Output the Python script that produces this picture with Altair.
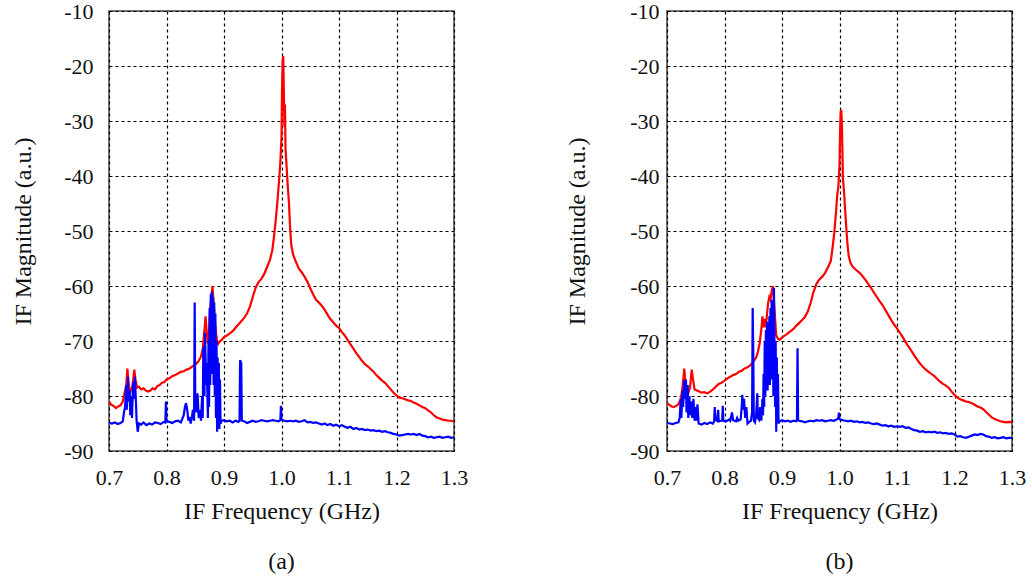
import altair as alt
import pandas as pd

X_TICKS = [0.7, 0.8, 0.9, 1.0, 1.1, 1.2, 1.3]
Y_TICKS = [-90, -80, -70, -60, -50, -40, -30, -20, -10]
X_TITLE = "IF Frequency (GHz)"
Y_TITLE = "IF Magnitude (a.u.)"
PANEL_TAGS = ["(a)", "(b)"]

# ---- panel (a): red trace (frequency GHz, magnitude a.u.)
RED_A = [
    (0.700, -81.0), (0.704, -81.6), (0.708, -81.8), (0.712, -82.2), (0.716, -81.9),
    (0.720, -81.7), (0.724, -81.0), (0.727, -79.5), (0.730, -78.0), (0.732, -75.0),
    (0.734, -77.5), (0.736, -79.5), (0.738, -79.0), (0.741, -78.0), (0.744, -75.2),
    (0.746, -77.0), (0.749, -78.5), (0.752, -78.3), (0.756, -78.8), (0.760, -78.6),
    (0.764, -79.0), (0.768, -79.2), (0.772, -79.0), (0.776, -78.6), (0.780, -78.8),
    (0.784, -78.2), (0.788, -78.0), (0.792, -77.6), (0.796, -77.5), (0.800, -77.0),
    (0.805, -76.8), (0.810, -76.4), (0.815, -76.2), (0.820, -75.9), (0.825, -75.6),
    (0.830, -75.5), (0.835, -75.2), (0.840, -75.0), (0.845, -74.6), (0.850, -74.3),
    (0.855, -73.8), (0.860, -72.8), (0.863, -71.5), (0.866, -68.0), (0.868, -65.5),
    (0.870, -68.5), (0.872, -70.5), (0.874, -68.0), (0.876, -64.0), (0.878, -62.0),
    (0.880, -60.0), (0.882, -63.0), (0.884, -66.0), (0.886, -68.5), (0.888, -70.0),
    (0.890, -70.5), (0.893, -70.0), (0.896, -69.8), (0.900, -69.3), (0.905, -69.0),
    (0.910, -68.6), (0.915, -68.2), (0.920, -67.6), (0.925, -67.0), (0.930, -66.4),
    (0.935, -65.8), (0.940, -65.0), (0.945, -63.8), (0.950, -62.0), (0.955, -60.3),
    (0.960, -59.3), (0.965, -58.7), (0.970, -57.8), (0.975, -56.5), (0.980, -55.2),
    (0.984, -53.5), (0.987, -51.0), (0.990, -48.0), (0.993, -44.5), (0.996, -40.5),
    (0.998, -37.5), (1.000, -33.0), (1.001, -24.0), (1.002, -19.0), (1.003, -18.2),
    (1.004, -24.0), (1.005, -31.0), (1.006, -27.0), (1.007, -35.0), (1.009, -38.5),
    (1.011, -42.0), (1.013, -45.0), (1.015, -49.5), (1.017, -52.5), (1.020, -54.2),
    (1.025, -55.6), (1.030, -56.8), (1.035, -57.5), (1.040, -58.3), (1.045, -59.2),
    (1.050, -60.4), (1.055, -61.5), (1.060, -62.5), (1.065, -63.0), (1.070, -63.6),
    (1.075, -64.3), (1.080, -65.2), (1.085, -66.0), (1.090, -66.6), (1.095, -67.2),
    (1.100, -67.6), (1.105, -68.4), (1.110, -69.0), (1.115, -69.8), (1.120, -70.6),
    (1.125, -71.4), (1.130, -72.2), (1.135, -72.9), (1.140, -73.6), (1.145, -74.2),
    (1.150, -74.6), (1.155, -75.1), (1.160, -75.6), (1.165, -76.2), (1.170, -76.7),
    (1.175, -77.2), (1.180, -77.6), (1.185, -78.2), (1.190, -78.8), (1.195, -79.4),
    (1.200, -79.9), (1.205, -80.3), (1.210, -80.4), (1.215, -80.6), (1.220, -80.8),
    (1.225, -80.9), (1.230, -81.2), (1.235, -81.4), (1.240, -81.7), (1.245, -82.0),
    (1.250, -82.2), (1.255, -82.6), (1.260, -83.0), (1.265, -83.5), (1.270, -83.9),
    (1.275, -84.1), (1.280, -84.3), (1.285, -84.4), (1.290, -84.5), (1.295, -84.5),
    (1.300, -84.6),
]

# ---- panel (a): blue trace
BLUE_A = [
    (0.700, -84.9), (0.705, -85.0), (0.710, -84.8), (0.715, -85.1), (0.720, -84.9),
    (0.724, -84.6), (0.726, -83.0), (0.728, -82.0), (0.730, -78.0), (0.731, -82.5),
    (0.733, -76.5), (0.734, -81.0), (0.736, -79.0), (0.737, -83.5), (0.739, -80.0),
    (0.740, -84.0), (0.742, -77.5), (0.744, -80.5), (0.745, -76.5), (0.747, -81.5),
    (0.748, -84.5), (0.750, -86.5), (0.752, -85.0), (0.756, -85.2), (0.760, -84.8),
    (0.765, -85.3), (0.770, -85.0), (0.775, -85.2), (0.780, -84.8), (0.785, -84.9),
    (0.790, -85.1), (0.795, -84.7), (0.798, -84.8), (0.799, -81.0), (0.800, -84.6),
    (0.805, -84.7), (0.810, -84.9), (0.815, -84.6), (0.820, -84.5), (0.825, -84.8),
    (0.828, -84.0), (0.830, -83.5), (0.832, -82.0), (0.834, -81.3), (0.836, -82.5),
    (0.838, -84.5), (0.840, -83.8), (0.842, -85.0), (0.844, -84.0), (0.846, -82.5),
    (0.848, -84.5), (0.849, -63.0), (0.850, -80.0), (0.852, -83.0), (0.854, -79.5),
    (0.856, -84.0), (0.858, -82.5), (0.860, -84.5), (0.862, -80.0), (0.863, -84.0),
    (0.864, -71.0), (0.866, -80.0), (0.867, -68.5), (0.869, -78.0), (0.870, -74.0),
    (0.872, -84.0), (0.873, -70.0), (0.874, -82.0), (0.875, -64.0), (0.876, -78.0),
    (0.877, -61.5), (0.878, -76.0), (0.879, -61.0), (0.880, -72.0), (0.881, -62.0),
    (0.882, -78.0), (0.883, -63.0), (0.884, -80.0), (0.885, -65.0), (0.886, -84.0),
    (0.887, -70.0), (0.888, -86.5), (0.889, -73.0), (0.890, -85.5), (0.891, -74.0),
    (0.892, -86.0), (0.893, -77.0), (0.894, -85.0), (0.896, -84.5), (0.900, -84.4),
    (0.905, -84.6), (0.910, -84.5), (0.915, -84.8), (0.920, -84.5), (0.925, -84.7),
    (0.927, -84.5), (0.928, -73.5), (0.930, -74.0), (0.931, -84.5), (0.935, -84.6),
    (0.940, -84.9), (0.945, -84.7), (0.950, -84.5), (0.955, -84.7), (0.960, -84.6),
    (0.965, -84.4), (0.970, -84.5), (0.975, -84.6), (0.980, -84.5), (0.985, -84.4),
    (0.990, -84.5), (0.995, -84.6), (0.998, -84.4), (0.999, -81.8), (1.000, -84.3),
    (1.005, -84.5), (1.010, -84.6), (1.015, -84.5), (1.020, -84.6), (1.025, -84.5),
    (1.030, -84.7), (1.035, -84.6), (1.040, -84.4), (1.045, -84.8), (1.050, -84.7),
    (1.055, -84.9), (1.060, -84.8), (1.065, -85.0), (1.070, -85.2), (1.075, -85.0),
    (1.080, -85.3), (1.085, -85.1), (1.090, -85.4), (1.095, -85.2), (1.100, -85.5),
    (1.105, -85.3), (1.110, -85.6), (1.115, -85.8), (1.120, -85.6), (1.125, -86.0),
    (1.130, -85.8), (1.135, -86.1), (1.140, -86.0), (1.145, -86.2), (1.150, -86.1),
    (1.155, -86.3), (1.160, -86.2), (1.165, -86.4), (1.170, -86.3), (1.175, -86.5),
    (1.180, -86.4), (1.185, -86.6), (1.190, -86.7), (1.195, -86.9), (1.200, -87.0),
    (1.205, -87.2), (1.210, -87.1), (1.215, -87.0), (1.220, -86.9), (1.225, -87.0),
    (1.230, -86.9), (1.235, -87.1), (1.240, -86.9), (1.245, -87.2), (1.250, -87.3),
    (1.255, -87.5), (1.260, -87.4), (1.265, -87.6), (1.270, -87.5), (1.275, -87.4),
    (1.280, -87.6), (1.285, -87.5), (1.290, -87.4), (1.295, -87.6), (1.300, -87.5),
]

# ---- panel (b): red trace
RED_B = [
    (0.700, -81.3), (0.704, -81.6), (0.708, -81.9), (0.712, -82.0), (0.716, -81.8),
    (0.720, -81.5), (0.724, -80.5), (0.727, -78.5), (0.730, -75.0), (0.732, -77.5),
    (0.734, -79.0), (0.737, -79.5), (0.740, -78.5), (0.743, -75.2), (0.745, -76.8),
    (0.748, -78.8), (0.752, -79.0), (0.756, -79.2), (0.760, -79.4), (0.765, -79.3),
    (0.770, -79.5), (0.775, -79.2), (0.780, -78.8), (0.785, -78.3), (0.790, -77.8),
    (0.795, -77.6), (0.800, -77.2), (0.805, -76.8), (0.810, -76.5), (0.815, -76.2),
    (0.820, -76.0), (0.825, -75.6), (0.830, -75.4), (0.835, -75.0), (0.840, -74.8),
    (0.845, -74.4), (0.850, -73.8), (0.855, -73.0), (0.858, -72.0), (0.861, -70.5),
    (0.864, -68.0), (0.866, -65.5), (0.868, -67.5), (0.870, -66.0), (0.872, -67.5),
    (0.874, -65.0), (0.876, -63.0), (0.878, -62.0), (0.880, -62.5), (0.882, -61.0),
    (0.884, -60.0), (0.886, -62.5), (0.888, -66.0), (0.890, -69.0), (0.893, -69.6),
    (0.896, -69.8), (0.900, -69.4), (0.905, -69.0), (0.910, -68.6), (0.915, -68.2),
    (0.920, -67.8), (0.925, -67.2), (0.930, -66.7), (0.935, -66.2), (0.940, -65.6),
    (0.945, -64.6), (0.950, -63.0), (0.955, -61.0), (0.960, -59.6), (0.965, -58.8),
    (0.970, -58.3), (0.975, -57.6), (0.980, -56.6), (0.985, -55.4), (0.988, -53.0),
    (0.991, -50.3), (0.994, -46.5), (0.996, -43.5), (0.998, -42.0), (1.000, -38.0),
    (1.001, -32.0), (1.002, -28.3), (1.003, -28.0), (1.004, -30.0), (1.005, -35.0),
    (1.006, -40.5), (1.008, -43.0), (1.010, -46.5), (1.012, -49.8), (1.014, -52.5),
    (1.016, -54.5), (1.019, -55.8), (1.023, -56.5), (1.028, -57.0), (1.035, -57.6),
    (1.040, -58.2), (1.045, -58.9), (1.050, -59.6), (1.055, -60.4), (1.060, -61.2),
    (1.065, -62.0), (1.070, -62.8), (1.075, -63.5), (1.080, -64.4), (1.085, -65.3),
    (1.090, -66.2), (1.095, -67.0), (1.100, -67.7), (1.105, -68.5), (1.110, -69.3),
    (1.115, -70.2), (1.120, -71.0), (1.125, -71.8), (1.130, -72.6), (1.135, -73.4),
    (1.140, -74.1), (1.145, -74.7), (1.150, -75.2), (1.155, -75.6), (1.160, -76.0),
    (1.165, -76.4), (1.170, -76.9), (1.175, -77.4), (1.180, -77.8), (1.185, -78.1),
    (1.190, -78.5), (1.195, -79.2), (1.200, -79.8), (1.205, -80.3), (1.210, -80.6),
    (1.215, -80.8), (1.220, -81.0), (1.225, -81.1), (1.230, -81.3), (1.235, -81.6),
    (1.240, -81.9), (1.245, -82.1), (1.250, -82.4), (1.255, -82.9), (1.260, -83.4),
    (1.265, -83.9), (1.270, -84.2), (1.275, -84.4), (1.280, -84.6), (1.285, -84.7),
    (1.290, -84.8), (1.295, -84.7), (1.300, -84.8),
]

# ---- panel (b): blue trace
BLUE_B = [
    (0.700, -84.9), (0.705, -85.0), (0.710, -85.1), (0.715, -84.9), (0.720, -84.8),
    (0.722, -84.0), (0.724, -80.5), (0.725, -84.0), (0.727, -79.0), (0.728, -82.0),
    (0.730, -77.2), (0.731, -80.5), (0.733, -77.0), (0.734, -83.0), (0.736, -78.0),
    (0.737, -84.0), (0.739, -80.0), (0.740, -83.5), (0.742, -81.0), (0.744, -84.0),
    (0.746, -80.5), (0.748, -84.5), (0.750, -82.0), (0.751, -84.5), (0.753, -81.5),
    (0.755, -85.0), (0.760, -85.2), (0.765, -84.9), (0.770, -85.1), (0.775, -84.8),
    (0.780, -85.0), (0.782, -84.6), (0.783, -82.0), (0.784, -84.3), (0.787, -84.5),
    (0.789, -82.5), (0.790, -84.6), (0.794, -84.5), (0.796, -84.4), (0.797, -81.8),
    (0.798, -84.5), (0.803, -84.6), (0.808, -84.3), (0.810, -84.5), (0.813, -83.0),
    (0.815, -84.4), (0.820, -84.6), (0.822, -84.0), (0.824, -84.5), (0.828, -84.3),
    (0.830, -82.0), (0.831, -79.8), (0.832, -82.5), (0.834, -80.5), (0.836, -84.0),
    (0.838, -82.0), (0.840, -85.0), (0.843, -84.7), (0.846, -84.5), (0.848, -83.0),
    (0.849, -64.0), (0.850, -72.0), (0.851, -84.5), (0.853, -84.8), (0.855, -83.5),
    (0.857, -79.5), (0.858, -84.0), (0.860, -84.3), (0.862, -82.0), (0.864, -84.5),
    (0.866, -80.5), (0.867, -83.5), (0.868, -76.0), (0.869, -82.0), (0.870, -70.0),
    (0.871, -80.0), (0.872, -68.0), (0.873, -78.0), (0.874, -66.5), (0.875, -79.0),
    (0.876, -67.0), (0.877, -76.0), (0.878, -65.5), (0.879, -78.0), (0.880, -64.0),
    (0.881, -74.0), (0.882, -62.5), (0.883, -77.0), (0.884, -63.0), (0.885, -80.0),
    (0.886, -60.3), (0.887, -72.0), (0.888, -82.0), (0.889, -70.0), (0.890, -86.5),
    (0.891, -73.0), (0.892, -84.0), (0.893, -76.0), (0.894, -85.0), (0.896, -84.6),
    (0.900, -84.4), (0.905, -84.6), (0.910, -84.5), (0.915, -84.7), (0.920, -84.5),
    (0.925, -84.6), (0.926, -84.3), (0.927, -71.3), (0.928, -84.4), (0.930, -84.5),
    (0.935, -84.6), (0.940, -84.8), (0.945, -84.6), (0.950, -84.5), (0.955, -84.6),
    (0.960, -84.4), (0.965, -84.5), (0.970, -84.4), (0.975, -84.6), (0.980, -84.5),
    (0.985, -84.4), (0.990, -84.5), (0.995, -84.3), (0.998, -84.0), (0.999, -83.0),
    (1.000, -84.2), (1.005, -84.4), (1.010, -84.5), (1.015, -84.6), (1.020, -84.5),
    (1.025, -84.7), (1.030, -84.6), (1.035, -84.8), (1.040, -84.7), (1.045, -84.9),
    (1.050, -84.8), (1.055, -85.0), (1.060, -85.1), (1.065, -85.0), (1.070, -85.2),
    (1.075, -85.4), (1.080, -85.3), (1.085, -85.5), (1.090, -85.4), (1.095, -85.6),
    (1.100, -85.5), (1.105, -85.6), (1.110, -85.5), (1.115, -85.8), (1.120, -85.7),
    (1.125, -86.0), (1.130, -86.2), (1.135, -86.3), (1.140, -86.5), (1.145, -86.4),
    (1.150, -86.6), (1.155, -86.5), (1.160, -86.6), (1.165, -86.5), (1.170, -86.7),
    (1.175, -86.6), (1.180, -86.8), (1.185, -86.7), (1.190, -86.9), (1.195, -86.8),
    (1.200, -87.0), (1.205, -87.4), (1.210, -87.3), (1.215, -87.5), (1.220, -87.6),
    (1.225, -87.4), (1.230, -87.2), (1.235, -87.0), (1.240, -87.1), (1.245, -86.9),
    (1.250, -87.0), (1.255, -87.3), (1.260, -87.4), (1.265, -87.6), (1.270, -87.5),
    (1.275, -87.7), (1.280, -87.6), (1.285, -87.5), (1.290, -87.7), (1.295, -87.6),
    (1.300, -87.6),
]

FONT = "Liberation Serif"
INK = "#111111"


def to_df(pairs):
    return pd.DataFrame(pairs, columns=["f", "m"])


def panel(red, blue, tag, y_label_pad, y_title_pad):
    x = alt.X(
        "f:Q",
        scale=alt.Scale(domain=[0.7, 1.3], nice=False, zero=False),
        axis=alt.Axis(
            values=X_TICKS, format=".1f", title=X_TITLE, labelPadding=16,
            titlePadding=11, labelFlush=False, labelOverlap=False,
            labelFont=FONT, labelFontSize=22, labelColor=INK,
            titleFont=FONT, titleFontSize=24, titleFontWeight="normal", titleColor=INK,
        ),
    )
    y = alt.Y(
        "m:Q",
        scale=alt.Scale(domain=[-90, -10], nice=False, zero=False),
        axis=alt.Axis(
            values=Y_TICKS, title=Y_TITLE, labelPadding=y_label_pad,
            titlePadding=y_title_pad, labelOverlap=False,
            labelExpr="'' + datum.value",
            labelFont=FONT, labelFontSize=22, labelColor=INK,
            titleFont=FONT, titleFontSize=24, titleFontWeight="normal", titleColor=INK,
        ),
    )
    red_line = alt.Chart(to_df(red)).mark_line(
        color="#ff0000", strokeWidth=2.2, clip=True
    ).encode(x=x, y=y)
    blue_line = alt.Chart(to_df(blue)).mark_line(
        color="#0000ff", strokeWidth=2.2, clip=True
    ).encode(x=x, y=y)
    return alt.layer(red_line, blue_line).properties(
        width=345,
        height=440,
        title=alt.TitleParams(
            tag, orient="bottom", offset=27, fontSize=24, font=FONT,
            fontWeight="normal", color=INK,
        ),
    )


pa = panel(RED_A, BLUE_A, PANEL_TAGS[0], 16, 28)
pb = panel(RED_B, BLUE_B, PANEL_TAGS[1], 8, 40)

chart = (
    alt.hconcat(pa, pb, spacing=95)
    .properties(padding={"left": 10, "top": -1, "right": 2, "bottom": 2}, background="white")
    .configure(font=FONT)
    .configure_view(stroke="#444", strokeWidth=1.5)
    .configure_axis(
        grid=True, gridColor="#000", gridDash=[3, 3], gridWidth=1.2, gridOpacity=1,
        ticks=False, domain=False,
    )
)

chart.save("out.html", embed_options={"renderer": "svg", "actions": False})
